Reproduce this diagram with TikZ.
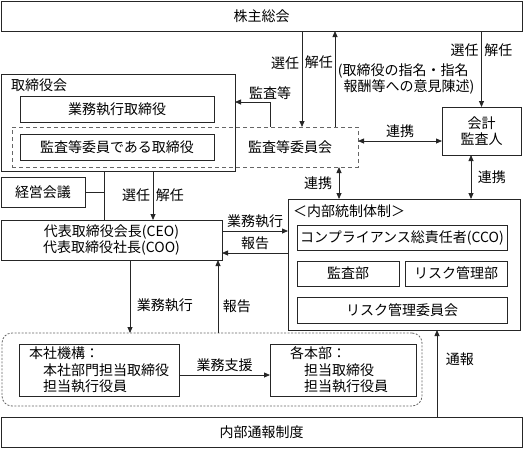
\documentclass[tikz,border=0pt]{standalone}
\usepackage{fontspec}
\setmainfont{Noto Sans CJK JP}
\usetikzlibrary{arrows.meta}

\tikzset{
  box/.style={draw=black!85, rectangle, line width=0.8pt, inner sep=0pt, outer sep=0pt},
  dashbox/.style={draw=black!60, rectangle, line width=0.8pt, dash pattern=on 4pt off 3pt, inner sep=0pt, outer sep=0pt},
  dotbox/.style={draw=black!60, rectangle, rounded corners=10pt, line width=0.8pt, dash pattern=on 2pt off 1.5pt, inner sep=0pt, outer sep=0pt},
  conn/.style={draw=black!85, line width=0.8pt},
  lbl/.style={inner sep=2.5pt}
}

\begin{document}
\begin{tikzpicture}[x=1pt, y=-1pt, >={Triangle[length=6pt,width=5pt]}, font=\fontsize{14}{16.5}\selectfont]
            \useasboundingbox (0,0) rectangle (525,448);
            \node[box, minimum width=521pt, minimum height=30pt](soukai) at (261.5,16){株主総会};
            \node[box, minimum width=234pt, minimum height=97pt](torishimari) at (118,122.5){};
            \node[anchor=north west, inner sep=0pt](torishimariT) at ([xshift=10pt,yshift=-5pt]torishimari.north west){取締役会};
            \node[box, minimum width=194pt, minimum height=26pt](gyoumu) at (117,109){業務執行取締役};
            \node[dashbox, minimum width=346pt, minimum height=40pt](kansaiin) at (185,147){};
            \node[box, minimum width=194pt, minimum height=26pt](kansatori) at (117,147){監査等委員である取締役};
            \node(kansaiinT) at (290,147){監査等委員会};
            \node[box, minimum width=79pt, minimum height=48pt, align=center](kaikei) at (481.5,131){会計\\監査人};
            \node[box, minimum width=84pt, minimum height=30pt](keiei) at (43,192){経営会議};
            \node[box, minimum width=221pt, minimum height=40pt, align=center](ceo) at (111.5,240){代表取締役会長(CEO)\\代表取締役社長(COO)};
            % internal control
            \node[box, minimum width=232pt, minimum height=131pt](naibu) at (404,264.5){};
            \node[anchor=north west, inner sep=0pt](naibuT) at ([xshift=5pt,yshift=-6pt]naibu.north west){＜内部統制体制＞};
            \node[box, minimum width=210pt, minimum height=25pt](cco) at (402,237.5){コンプライアンス総責任者(CCO)};
            \node[box, minimum width=102pt, minimum height=25pt](kansabu) at (348,273.5){監査部};
            \node[box, minimum width=102pt, minimum height=25pt](riskbu) at (456,273.5){リスク管理部};
            \node[box, minimum width=210pt, minimum height=26pt](riskiin) at (402,310){リスク管理委員会};
            % execution
            \node[dotbox, minimum width=420pt, minimum height=73pt](group) at (212,369.5){};
            \node[box, minimum width=160pt, minimum height=52pt, text width=140pt, align=left](honsha) at (99,370){本社機構：\\\hspace{1em}本社部門担当取締役\\\hspace{1em}担当執行役員};
            \node[box, minimum width=146pt, minimum height=52pt, text width=106pt, align=left](kaku) at (343,370){各本部：\\\hspace{1em}担当取締役\\\hspace{1em}担当執行役員};
            \node[box, minimum width=521pt, minimum height=30pt](tsuho) at (261.5,432){内部通報制度};

            \coordinate (selA) at (302,0);
            \coordinate (kaiA) at (335,0);
            \coordinate (kansaC) at (270,102);
            \coordinate (renA) at (0,141);
            \coordinate (renB) at (339,0);
            \coordinate (renC) at (471,0);
            \coordinate (senC) at (153,0);
            \coordinate (keiC) at (104,0);
            \coordinate (gyoA) at (0,231);
            \coordinate (houA) at (0,253);
            \coordinate (gyoB) at (130,0);
            \coordinate (houB) at (218,0);
            \coordinate (shienA) at (0,375);
            \coordinate (tsuC) at (437,0);

            \draw[conn, ->] (soukai.south -| selA) -- (kansaiin.north -| selA) node[lbl, pos=0.33, left]{選任} node[lbl, pos=0.33, right]{解任};
            \draw[conn, ->] (kansaiin.north -| kaiA) -- (soukai.south -| kaiA) node[lbl, pos=0.5, right, align=left]{(取締役の指名・指名\\\hspace{0.4em}報酬等への意見陳述)};
            \draw[conn, ->] (soukai.south -| kaikei.north) -- (kaikei.north) node[lbl, pos=0.25, left]{選任} node[lbl, pos=0.25, right]{解任};
            \draw[conn, ->] (kansaiin.north -| kansaC) -- (kansaC) -- (torishimari.east |- kansaC);
            \node[lbl, above] (kansaL) at (kansaC) {監査等};
            \draw[conn, <->] (kansaiin.east |- renA) -- (kaikei.west |- renA) node[lbl, midway, above]{連携};
            \draw[conn, <->] (kansaiin.south -| renB) -- (naibu.north -| renB) node[lbl, midway, left=4pt]{連携};
            \draw[conn, <->] (kaikei.south -| renC) -- (naibu.north -| renC) node[lbl, midway, right=4pt]{連携};
            \draw[conn, ->] (torishimari.south -| senC) -- (ceo.north -| senC) node[lbl, midway, left]{選任} node[lbl, midway, right]{解任};
            \draw[conn] (torishimari.south -| keiC) -- (ceo.north -| keiC);
            \draw[conn] (keiei.east) -- (keiei.east -| keiC);
            \draw[conn, ->] (ceo.east |- gyoA) -- (naibu.west |- gyoA) node[lbl, midway, above]{業務執行};
            \draw[conn, ->] (naibu.west |- houA) -- (ceo.east |- houA) node[lbl, midway, above]{報告};
            \draw[conn, ->] (ceo.south -| gyoB) -- (group.north -| gyoB) node[lbl, pos=0.62, right=4pt]{業務執行};
            \draw[conn, ->] (group.north -| houB) -- (ceo.south -| houB) node[lbl, pos=0.36, right=2pt]{報告};
            \draw[conn, ->] (honsha.east |- shienA) -- (kaku.west |- shienA) node[lbl, midway, above]{業務支援};
            \draw[conn, ->] (tsuho.north -| tsuC) -- (naibu.south -| tsuC) node[lbl, pos=0.66, right=6pt]{通報};
        \end{tikzpicture}
\end{document}
